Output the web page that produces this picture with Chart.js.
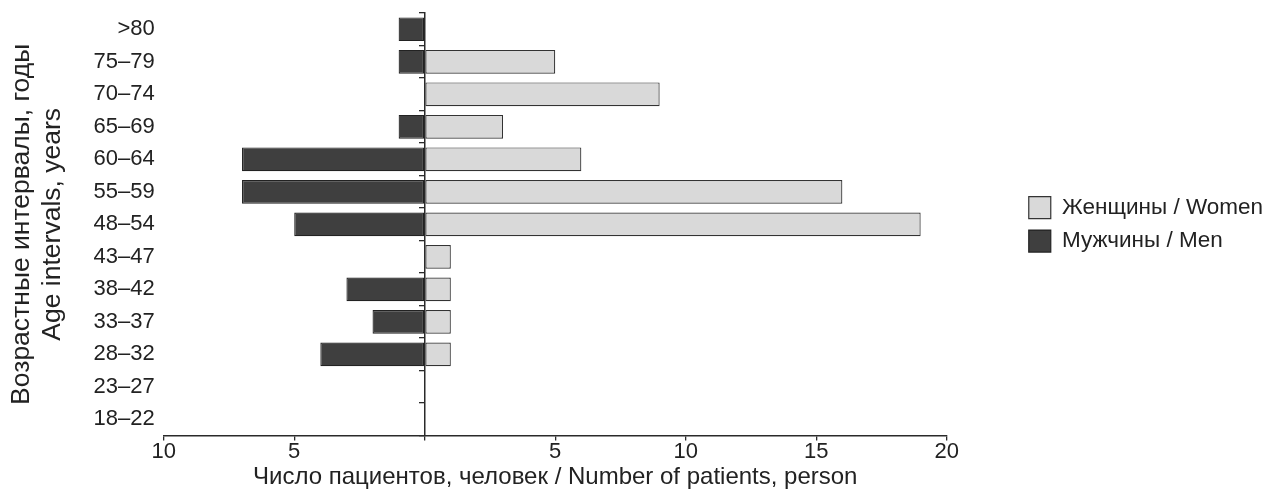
<!DOCTYPE html>
<html>
<head>
<meta charset="utf-8">
<script src="https://cdn.jsdelivr.net/npm/chart.js@4"></script>
<style>
  html, body { margin: 0; padding: 0; background: #fff; }
  #wrap { width: 1277px; height: 495px; }
</style>
</head>
<body>
<div id="wrap"><canvas id="chartAgePyramid"></canvas></div>
<script>
// age groups, top to bottom
var ageGroups = ['>80', '75–79', '70–74', '65–69', '60–64', '55–59', '48–54',
                 '43–47', '38–42', '33–37', '28–32', '23–27', '18–22']
var women = [0, 5, 9, 3, 6, 16, 19, 1, 1, 1, 1, 0, 0]
var men   = [1, 1, 0, 1, 7, 7, 5, 0, 3, 2, 4, 0, 0]

var xMin = -10
var xMax = 20
var xStep = 5

var font = "'Liberation Sans', Arial, sans-serif"
var textColor = '#222'
var lineColor = '#2a2a2a'

Chart.defaults.font.family = font
Chart.defaults.color = textColor

var ctx = document.getElementById('chartAgePyramid')

var chartAgePyramid = new Chart(ctx, {
  type: 'bar',
  data: {
    labels: ageGroups,
    datasets: [{
      label: 'Женщины / Women',
      data: women,
      backgroundColor: '#d9d9d9',
      borderColor: '#333',
      borderWidth: 1.2,
      borderSkipped: false
    }, {
      label: 'Мужчины / Men',
      // men go to the left of the axis
      data: men.map(function (v) { return -v }),
      backgroundColor: '#3f3f3f',
      borderColor: '#222',
      borderWidth: 1.2,
      borderSkipped: false
    }]
  },
  options: {
    indexAxis: 'y',
    responsive: true,
    maintainAspectRatio: false,
    animation: false,
    barPercentage: 0.73,
    categoryPercentage: 1,
    layout: { padding: { top: 13, left: 6, right: 4, bottom: 4 } },
    scales: {
      x: {
        type: 'linear',
        stacked: true,
        min: xMin,
        max: xMax,
        grid: { display: true, drawOnChartArea: false, drawTicks: true, tickLength: 5, color: lineColor, lineWidth: 1.3 },
        border: { display: true, color: lineColor, width: 1.5 },
        ticks: {
          stepSize: xStep,
          padding: 0,
          font: { size: 22, lineHeight: 1.0 },
          color: textColor,
          callback: function (v) { return v === 0 ? '' : Math.abs(v) }
        },
        title: {
          display: true,
          text: 'Число пациентов, человек / Number of patients, person',
          font: { size: 24, lineHeight: 1.1 },
          color: textColor,
          padding: { top: 2, bottom: 0 }
        }
      },
      y: {
        type: 'category',
        stacked: true,
        offset: true,
        grid: { display: false, drawTicks: false },
        border: { display: false },
        ticks: { padding: 9, font: { size: 22, lineHeight: 0.3 }, color: textColor },
        title: {
          display: true,
          text: ['Возрастные интервалы, годы', 'Age intervals, years'],
          font: { size: 26.5, lineHeight: 1.18 },
          color: textColor,
          padding: { top: 0, bottom: 16 }
        }
      },
      // the centre axis at x = 0, ticks between age groups
      yZero: {
        type: 'category',
        labels: ageGroups,
        position: { x: 0 },
        offset: true,
        grid: { display: true, offset: true, drawOnChartArea: false, drawTicks: true, tickLength: 5, color: lineColor, lineWidth: 1.3 },
        border: { display: true, color: lineColor, width: 1.5 },
        ticks: { display: false }
      },
      // blank gap between the plot and the legend
      gap: {
        type: 'linear',
        position: 'right',
        grid: { display: false, drawTicks: false },
        border: { display: false },
        ticks: { display: false },
        afterFit: function (scale) { scale.width = 71 }
      }
    },
    plugins: {
      legend: {
        position: 'right',
        fullSize: false,
        maxWidth: 400,
        labels: {
          boxWidth: 22,
          boxHeight: 22,
          padding: 11,
          font: { size: 22.5 },
          color: textColor
        }
      },
      tooltip: { enabled: false }
    }
  }
})
</script>
</body>
</html>
